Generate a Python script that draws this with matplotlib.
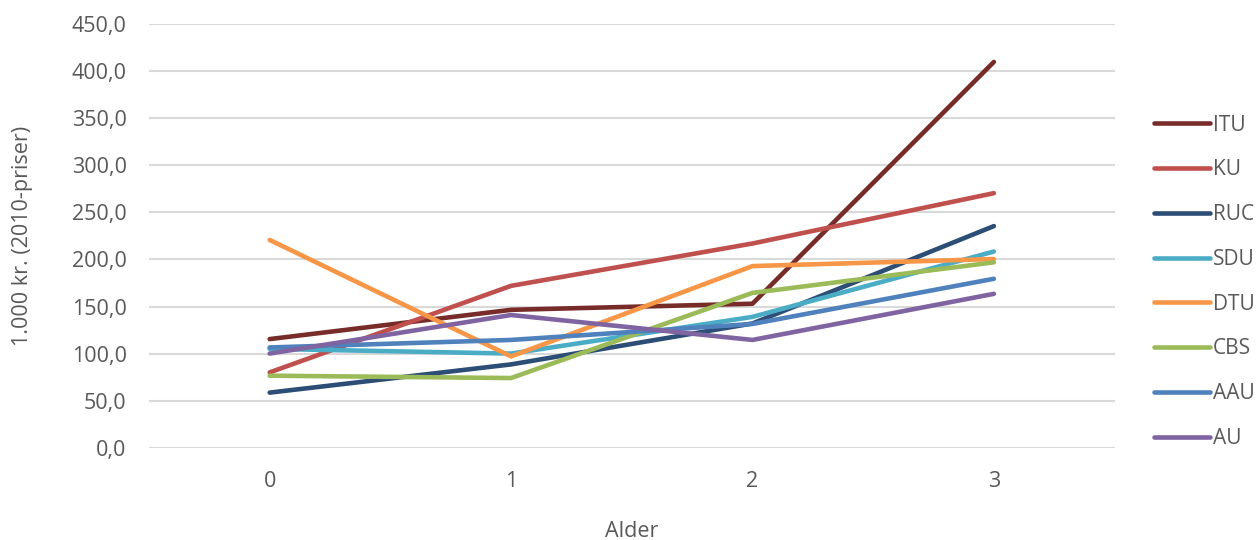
import matplotlib.pyplot as plt

plt.rcParams['font.family'] = ['Open Sans', 'DejaVu Sans']

# data
alder = [0, 1, 2, 3]
skoler = ['ITU', 'KU', 'RUC', 'SDU', 'DTU', 'CBS', 'AAU', 'AU']
itu = [115.4, 146.5, 153.0, 410.0]
ku = [80.0, 172.0, 217.0, 270.5]
ruc = [58.5, 88.5, 132.0, 235.5]
sdu = [105.0, 100.0, 139.0, 208.5]
dtu = [220.8, 97.0, 193.0, 200.5]
cbs = [76.5, 74.0, 164.5, 197.0]
aau = [106.5, 114.5, 131.5, 179.5]
au = [100.0, 141.0, 114.5, 163.5]
farver = ['#772C2A', '#C0504D', '#2C4D75', '#4BACC6',
          '#F79646', '#9BBB59', '#4F81BD', '#8064A2']

serier = [itu, ku, ruc, sdu, dtu, cbs, aau, au]
tekst_farve = '#595959'
fs = 15.5

fig = plt.figure(figsize=(12.58, 5.4), dpi=100)
ax = fig.add_axes([0.1184, 0.171, 0.7676, 0.784])

for navn, vaerdier, farve in zip(skoler, serier, farver):
    ax.plot(alder, vaerdier, color=farve, lw=3.3, label=navn,
            solid_capstyle='round', solid_joinstyle='round')

ax.set_xlim(-0.5, 3.5)
ax.set_ylim(0, 450)
ax.set_yticks(range(0, 451, 50))
ax.set_yticklabels([f'{v},0' for v in range(0, 451, 50)])
ax.set_xticks(alder)
ax.grid(axis='y', color='#D9D9D9', lw=1.5)
ax.set_axisbelow(True)
for side in ax.spines.values():
    side.set_visible(False)
ax.tick_params(length=0, labelsize=fs, colors=tekst_farve)
ax.tick_params(axis='y', pad=16)
ax.tick_params(axis='x', pad=17)

ax.set_ylabel('1.000 kr. (2010-priser)', fontsize=fs, color=tekst_farve, labelpad=28)
ax.set_xlabel('Alder', fontsize=fs, color=tekst_farve, labelpad=21)

leg = fig.legend(loc='upper left', bbox_to_anchor=(0.9105, 0.803), frameon=False,
                 fontsize=15, labelspacing=1.14, handlelength=2.7,
                 handletextpad=0.15, borderaxespad=0)
for tekst in leg.get_texts():
    tekst.set_color(tekst_farve)

fig.savefig('out.png', dpi=100)
